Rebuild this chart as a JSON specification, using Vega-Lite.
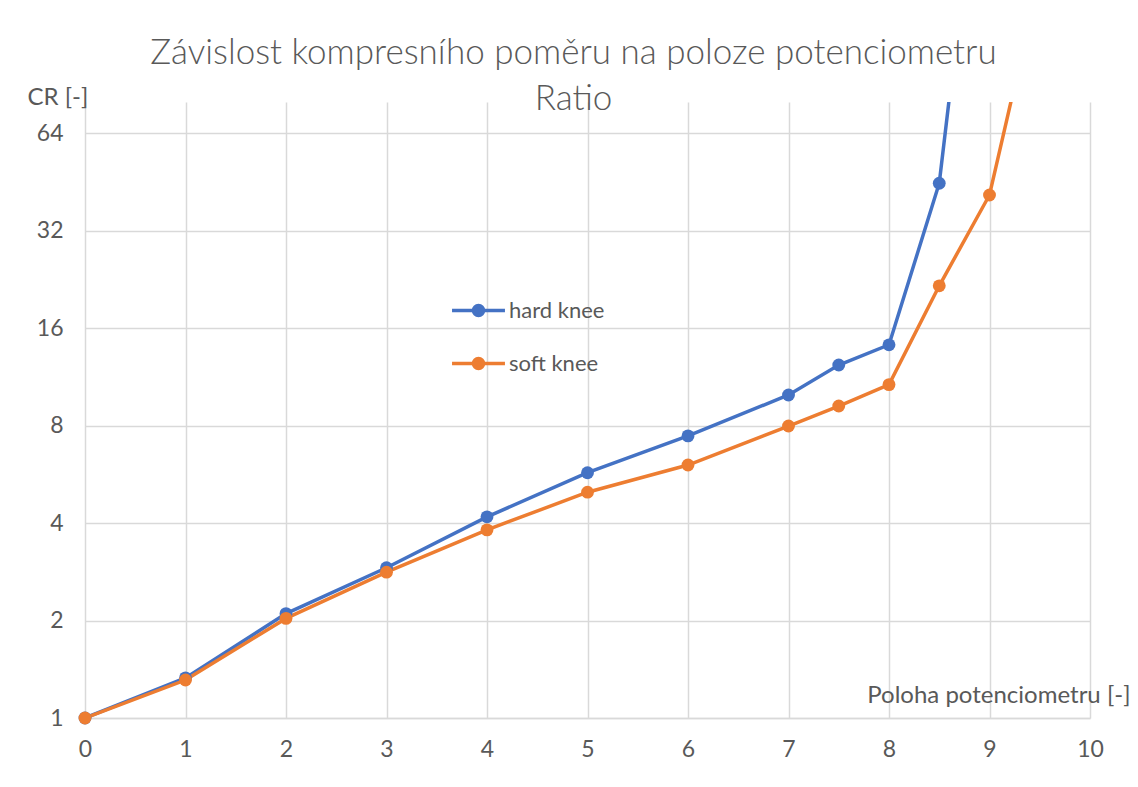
{
  "$schema": "https://vega.github.io/schema/vega-lite/v6.json",
  "width": 1005,
  "height": 616,
  "autosize": {"type": "none"},
  "padding": {"left": 85, "top": 102, "right": 48, "bottom": 69},
  "background": "white",
  "title": {
    "text": ["Závislost kompresního poměru na poloze potenciometru", "Ratio"],
    "anchor": "middle",
    "dx": -14,
    "offset": -32,
    "fontSize": 35,
    "lineHeight": 46,
    "font": "Lato",
    "fontWeight": 300,
    "color": "#595959"
  },
  "config": {
    "view": {"stroke": null},
    "font": "Lato",
    "axis": {
      "labelFont": "Lato",
      "labelFontSize": 23,
      "labelColor": "#595959",
      "titleFont": "Lato",
      "titleFontSize": 24,
      "titleFontWeight": "normal",
      "titleColor": "#595959",
      "gridColor": "#d9d9d9",
      "gridWidth": 1.5,
      "ticks": false
    }
  },
  "data": {
    "values": [
      {"poloha": 0, "cr": 1.0, "serie": "hard knee"},
      {"poloha": 1, "cr": 1.33, "serie": "hard knee"},
      {"poloha": 2, "cr": 2.1, "serie": "hard knee"},
      {"poloha": 3, "cr": 2.91, "serie": "hard knee"},
      {"poloha": 4, "cr": 4.18, "serie": "hard knee"},
      {"poloha": 5, "cr": 5.72, "serie": "hard knee"},
      {"poloha": 6, "cr": 7.43, "serie": "hard knee"},
      {"poloha": 7, "cr": 9.94, "serie": "hard knee"},
      {"poloha": 7.5, "cr": 12.3, "serie": "hard knee"},
      {"poloha": 8, "cr": 14.2, "serie": "hard knee"},
      {"poloha": 8.5, "cr": 44.8, "serie": "hard knee"},
      {"poloha": 9, "cr": 917, "serie": "hard knee"},
      {"poloha": 0, "cr": 1.0, "serie": "soft knee"},
      {"poloha": 1, "cr": 1.31, "serie": "soft knee"},
      {"poloha": 2, "cr": 2.03, "serie": "soft knee"},
      {"poloha": 3, "cr": 2.82, "serie": "soft knee"},
      {"poloha": 4, "cr": 3.81, "serie": "soft knee"},
      {"poloha": 5, "cr": 4.98, "serie": "soft knee"},
      {"poloha": 6, "cr": 6.04, "serie": "soft knee"},
      {"poloha": 7, "cr": 7.97, "serie": "soft knee"},
      {"poloha": 7.5, "cr": 9.19, "serie": "soft knee"},
      {"poloha": 8, "cr": 10.7, "serie": "soft knee"},
      {"poloha": 8.5, "cr": 21.6, "serie": "soft knee"},
      {"poloha": 9, "cr": 41.2, "serie": "soft knee"},
      {"poloha": 10, "cr": 920, "serie": "soft knee"}
    ]
  },
  "encoding": {
    "x": {
      "field": "poloha",
      "type": "quantitative",
      "scale": {"domain": [0, 10], "nice": false, "zero": false},
      "axis": {
        "values": [0, 1, 2, 3, 4, 5, 6, 7, 8, 9, 10],
        "format": "d",
        "title": "Poloha potenciometru [-]",
        "titleX": 1045,
        "titleY": -23,
        "titleAlign": "right",
        "titleBaseline": "middle",
        "titleAnchor": null,
        "labelPadding": 20,
        "labelFlush": false,
        "domainColor": "#d9d9d9",
        "domainWidth": 1.5
      }
    },
    "y": {
      "field": "cr",
      "type": "quantitative",
      "scale": {"type": "log", "base": 2, "domain": [1, 79.8], "nice": false},
      "axis": {
        "values": [1, 2, 4, 8, 16, 32, 64],
        "format": "d",
        "title": "CR [-]",
        "titleAngle": 0,
        "titleX": -58,
        "titleY": -5,
        "titleAlign": "left",
        "titleBaseline": "middle",
        "titleAnchor": null,
        "labelPadding": 22,
        "domain": false
      }
    },
    "color": {
      "field": "serie",
      "type": "nominal",
      "scale": {"domain": ["hard knee", "soft knee"], "range": ["#4472C4", "#ED7D31"]},
      "legend": {
        "title": null,
        "orient": "none",
        "legendX": 365,
        "legendY": 180,
        "padding": 0,
        "rowPadding": 12,
        "symbolType": "M-1,0H1M-0.19,0A0.19,0.19,0,1,0,0.19,0A0.19,0.19,0,1,0,-0.19,0Z",
        "symbolSize": 2800,
        "symbolStrokeWidth": 3.5,
        "symbolOpacity": 1,
        "labelFont": "Lato",
        "labelFontSize": 22,
        "labelColor": "#595959",
        "labelOffset": 2,
        "encode": {
          "symbols": {"update": {"stroke": {"scale": "color", "field": "value"}, "fill": {"scale": "color", "field": "value"}}}
        }
      }
    }
  },
  "layer": [
    {
      "mark": {"type": "line", "strokeWidth": 3.5, "clip": true}
    },
    {
      "transform": [{"filter": "datum.cr <= 80"}],
      "mark": {"type": "point", "filled": true, "size": 165, "opacity": 1, "clip": false}
    }
  ]
}
